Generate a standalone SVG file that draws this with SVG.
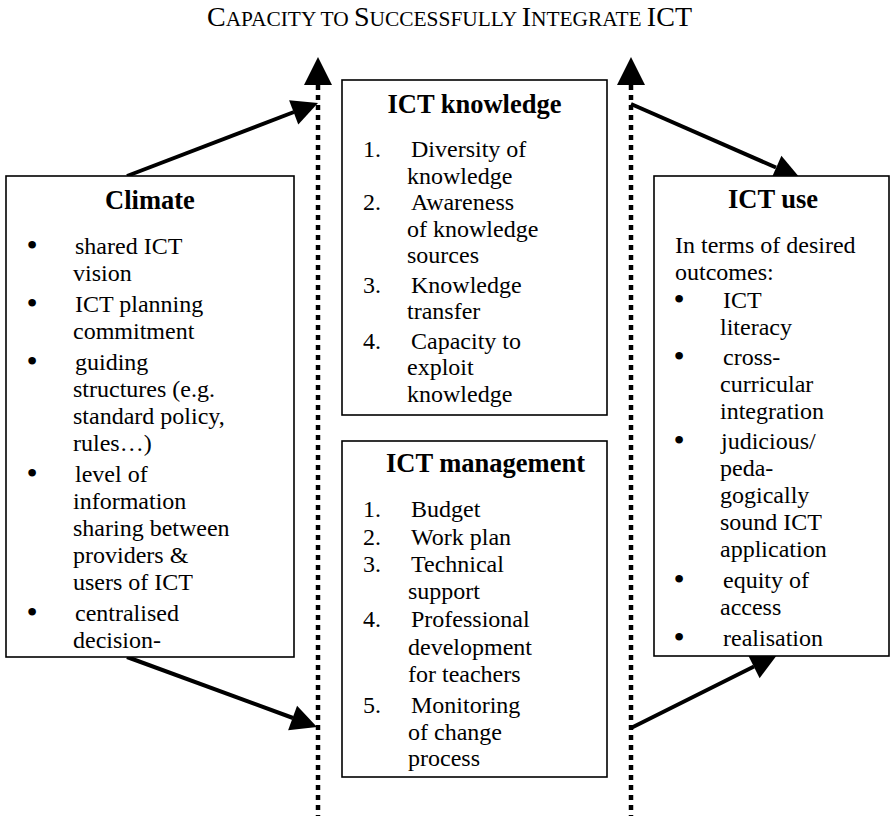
<svg xmlns="http://www.w3.org/2000/svg" width="892" height="816" viewBox="0 0 892 816">
<style>
text { font-family: "Liberation Serif", "Times New Roman", serif; fill: #000; }
.t { font-size: 24px; }
.h { font-size: 26.5px; font-weight: bold; }
.b { font-size: 32px; }
.box { fill: #fff; stroke: #000; stroke-width: 1.6; }
.dot { stroke: #000; stroke-width: 4.5; stroke-dasharray: 5 5; fill: none; }
.ln { stroke: #000; stroke-width: 4; fill: none; }
.ah { fill: #000; stroke: none; }
</style>
<rect width="892" height="816" fill="#fff"/>
<text id="title" x="207" y="26" textLength="485" lengthAdjust="spacingAndGlyphs"><tspan font-size="27.5">C</tspan><tspan font-size="21">APACITY TO </tspan><tspan font-size="27.5">S</tspan><tspan font-size="21">UCCESSFULLY </tspan><tspan font-size="27.5">I</tspan><tspan font-size="21">NTEGRATE </tspan><tspan font-size="27.5">ICT</tspan></text>

<g id="connectors">
  <line class="dot" x1="318" y1="85" x2="318" y2="816"/>
  <polygon class="ah" points="318,57 304,85 332,85"/>
  <line class="dot" x1="631" y1="85" x2="631" y2="816"/>
  <polygon class="ah" points="631,57 617,85 645,85"/>
  <line class="ln" x1="127" y1="176" x2="294" y2="112"/>
  <polygon class="ah" points="318,103 298.3,124.4 289.1,100.2"/>
  <line class="ln" x1="127" y1="657" x2="293" y2="718"/>
  <polygon class="ah" points="317,727 288.1,730.2 297.1,705.8"/>
  <line class="ln" x1="631" y1="104" x2="776" y2="167.5"/>
  <polygon class="ah" points="800,178 771,179.5 781.4,155.7"/>
  <line class="ln" x1="631" y1="728" x2="754" y2="666.5"/>
  <polygon class="ah" points="777,655 759.6,678.2 748,655"/>
</g>

<g id="climate">
  <rect class="box" x="6" y="176" width="288" height="481"/>
  <text class="h" x="150" y="209" text-anchor="middle">Climate</text>
  <g class="t">
    <text class="b" x="32" y="256" text-anchor="middle">•</text>
    <text x="75" y="254">shared ICT</text>
    <text x="73" y="281">vision</text>
    <text class="b" x="32" y="314" text-anchor="middle">•</text>
    <text x="75" y="312">ICT planning</text>
    <text x="73" y="339">commitment</text>
    <text class="b" x="32" y="372" text-anchor="middle">•</text>
    <text x="75" y="370">guiding</text>
    <text x="73" y="397">structures (e.g.</text>
    <text x="73" y="424">standard policy,</text>
    <text x="73" y="451">rules…)</text>
    <text class="b" x="32" y="484" text-anchor="middle">•</text>
    <text x="75" y="482">level of</text>
    <text x="73" y="509">information</text>
    <text x="73" y="536">sharing between</text>
    <text x="73" y="563">providers &amp;</text>
    <text x="73" y="590">users of ICT</text>
    <text class="b" x="32" y="623" text-anchor="middle">•</text>
    <text x="75" y="621">centralised</text>
    <text x="73" y="648">decision-</text>
  </g>
</g>

<g id="ict-knowledge">
  <rect class="box" x="342" y="80" width="265" height="335"/>
  <text class="h" x="474.5" y="113" text-anchor="middle">ICT knowledge</text>
  <g class="t">
    <text x="363" y="157">1.</text>
    <text x="411" y="157">Diversity of</text>
    <text x="407" y="184">knowledge</text>
    <text x="363" y="210">2.</text>
    <text x="411" y="210">Awareness</text>
    <text x="407" y="237">of knowledge</text>
    <text x="407" y="263">sources</text>
    <text x="363" y="293">3.</text>
    <text x="411" y="293">Knowledge</text>
    <text x="407" y="319">transfer</text>
    <text x="363" y="349">4.</text>
    <text x="411" y="349">Capacity to</text>
    <text x="407" y="375">exploit</text>
    <text x="407" y="402">knowledge</text>
  </g>
</g>

<g id="ict-management">
  <rect class="box" x="342" y="441" width="265" height="336"/>
  <text class="h" x="386" y="472">ICT management</text>
  <g class="t">
    <text x="363" y="517">1.</text>
    <text x="411" y="517">Budget</text>
    <text x="363" y="545">2.</text>
    <text x="411" y="545">Work plan</text>
    <text x="363" y="572">3.</text>
    <text x="411" y="572">Technical</text>
    <text x="408" y="599">support</text>
    <text x="363" y="627">4.</text>
    <text x="411" y="627">Professional</text>
    <text x="408" y="655">development</text>
    <text x="408" y="682">for teachers</text>
    <text x="363" y="713">5.</text>
    <text x="411" y="713">Monitoring</text>
    <text x="408" y="740">of change</text>
    <text x="408" y="766">process</text>
  </g>
</g>

<g id="ict-use">
  <rect class="box" x="654" y="176" width="235" height="480"/>
  <text class="h" x="773" y="208" text-anchor="middle">ICT use</text>
  <g class="t">
    <text x="675" y="253">In terms of desired</text>
    <text x="675" y="280">outcomes:</text>
    <text class="b" x="679" y="310" text-anchor="middle">•</text>
    <text x="723" y="308">ICT</text>
    <text x="720" y="335">literacy</text>
    <text class="b" x="679" y="367" text-anchor="middle">•</text>
    <text x="723" y="365">cross-</text>
    <text x="720" y="392">curricular</text>
    <text x="720" y="419">integration</text>
    <text class="b" x="679" y="451" text-anchor="middle">•</text>
    <text x="721" y="449">judicious/</text>
    <text x="720" y="476">peda-</text>
    <text x="720" y="503">gogically</text>
    <text x="720" y="530">sound ICT</text>
    <text x="720" y="557">application</text>
    <text class="b" x="679" y="590" text-anchor="middle">•</text>
    <text x="723" y="588">equity of</text>
    <text x="720" y="615">access</text>
    <text class="b" x="679" y="648" text-anchor="middle">•</text>
    <text x="723" y="646">realisation</text>
  </g>
</g>
</svg>
